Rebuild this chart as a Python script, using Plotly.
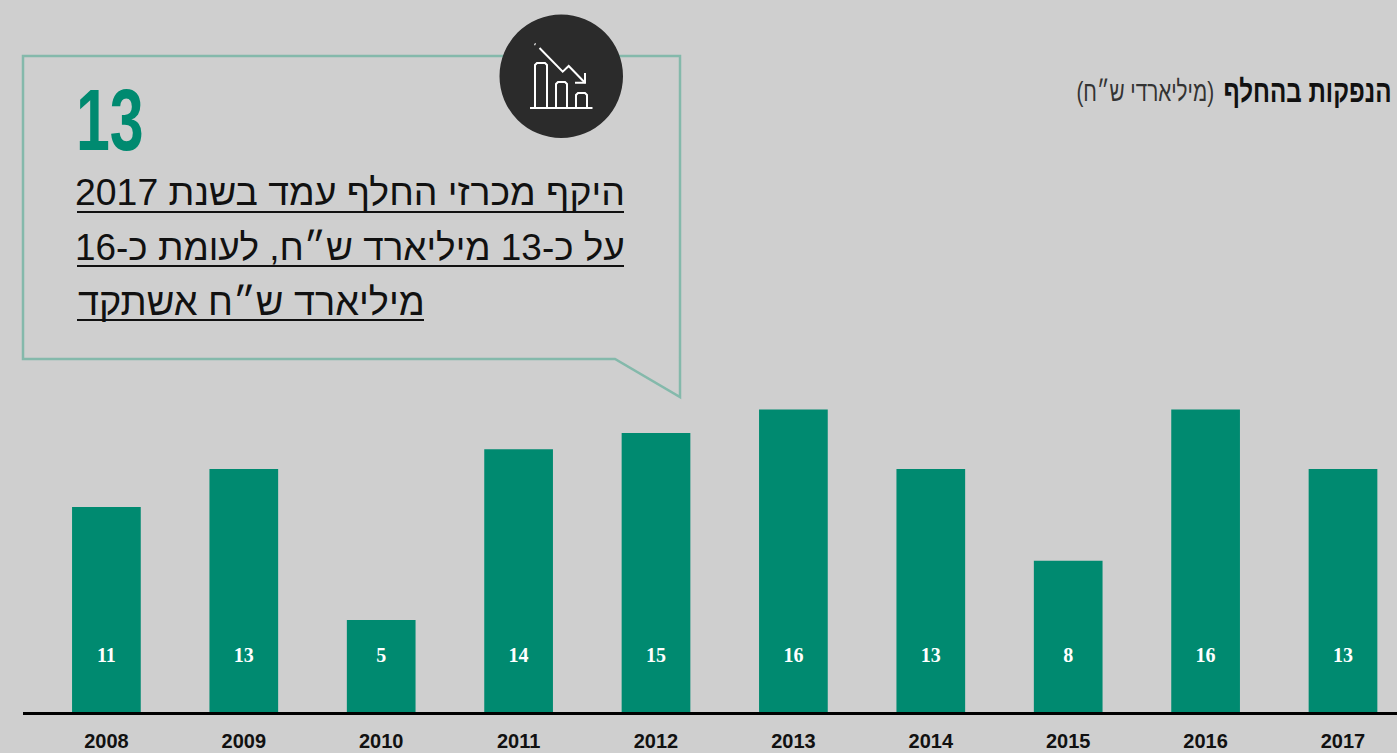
import plotly.graph_objects as go

years = ["2008","2009","2010","2011","2012","2013","2014","2015","2016","2017"]
bar_values = [10.85,12.86,4.87,13.9,14.76,16,12.86,8,16,12.86]
bar_labels = ["11","13","5","14","15","16","13","8","16","13"]

BG="#cfcfcf"; GREEN="#008a70"; FRAME="#84b9ab"; DARK="#2b2b2b"
SANS="Liberation Sans, sans-serif"
W,H=1397,753; L=23; B=712; PX_PER_UNIT=18.9; STEP=137.4; C0=106.4
LABEL_Y=(B-657)/PX_PER_UNIT

def X(p): return (p-L)/(W-L)
def Y(p): return 1-p/B
def path(pts,close=False):
    s="M"+" L".join(f"{X(a):.5f},{Y(b):.5f}" for a,b in pts)
    return s+(" Z" if close else "")

fig=go.Figure()
fig.add_bar(x=years,y=bar_values,marker_color=GREEN,marker_line_width=0,width=0.5,hoverinfo="skip")
fig.add_scatter(x=years,y=[LABEL_Y]*len(years),mode="text",text=bar_labels,
    textfont=dict(family="Liberation Serif, serif",size=20,color="white",weight="bold"),hoverinfo="skip")

shapes=[]
def line(pts,color="white",width=2,close=False):
    shapes.append(dict(type="path",xref="paper",yref="paper",path=path(pts,close),line=dict(color=color,width=width),layer="above"))

# callout frame
line([(23,56),(680,56),(680,397),(615,359),(23,359)],color=FRAME,width=2.5,close=True)
# icon disc
shapes.append(dict(type="circle",xref="paper",yref="paper",x0=X(499.5),x1=X(623),y0=Y(138),y1=Y(14.5),
    fillcolor=DARK,line=dict(width=0),layer="above"))
# icon strokes
line([(530,108),(592.5,108)])
line([(535,108),(535,65),(537,63),(545,63),(547,65),(547,108)])
line([(556,108),(556,84),(558,82),(565,82),(567,84),(567,108)])
line([(576,108),(576,95),(578,93),(585,93),(587,95),(587,108)])
line([(539.5,48),(562.7,71.7),(568.7,66),(585,82.7)])
line([(585,73),(585,82.7),(575,82.7)])
line([(534.5,44),(535.5,44.5)])
# underlines
for x0,x1,y in [(77,624,212),(77,624,266),(77,424,320)]:
    shapes.append(dict(type="line",xref="paper",yref="paper",x0=X(x0),x1=X(x1),y0=Y(y),y1=Y(y),
        line=dict(color="#111111",width=2),layer="above"))

def note(text,x,y,size,color="#111111",anchor="right"):
    return dict(text=text,x=X(x),y=Y(y),xref="paper",yref="paper",xanchor=anchor,yanchor="middle",
        showarrow=False,font=dict(family=SANS,size=size,color=color))

annotations=[
    note("<b>13</b>",74,119,87,color=GREEN,anchor="left"),
    note("היקף מכרזי החלף עמד בשנת 2017",627,192,37.4),
    note("על כ-13 מיליארד ש״ח, לעומת כ-16",627,247,36.9),
    note("מיליארד ש״ח אשתקד",427,302,37.9),
    note("<b>הנפקות בהחלף</b>",1394,92,31),
    note("(מיליארדי ש״ח)",1216,92,28,color="#333333"),
]

fig.update_layout(width=W,height=H,margin=dict(l=L,r=0,t=0,b=H-B,pad=0),autosize=False,
    paper_bgcolor=BG,plot_bgcolor=BG,showlegend=False,shapes=shapes,annotations=annotations,
    xaxis=dict(type="category",categoryorder="array",categoryarray=years,automargin=False,
        range=[(L-C0)/STEP,(W-C0)/STEP],showgrid=False,zeroline=False,showline=True,linecolor="#000000",linewidth=2.5,
        ticks="",ticklabelstandoff=9,tickfont=dict(family=SANS,size=20,color="#111111",weight="bold")),
    yaxis=dict(range=[0,B/PX_PER_UNIT],visible=False,showgrid=False,zeroline=False,automargin=False))

css = (
    ".annotation text{transform-box:fill-box;}"
    ".annotation[data-index='0'] text{transform-origin:left center;transform:scaleX(.7);}"
    ".annotation[data-index='4'] text{transform-origin:right center;transform:scaleX(.78);}"
    ".annotation[data-index='5'] text{transform-origin:right center;transform:scaleX(.74);}"
)
post = ("document.body.style.margin='0';document.body.style.background='#cfcfcf';"
        "var s=document.createElement('style');s.textContent=\"" + css + "\";document.head.appendChild(s);")
fig.write_html("out.html",config=dict(displayModeBar=False),post_script=post)
